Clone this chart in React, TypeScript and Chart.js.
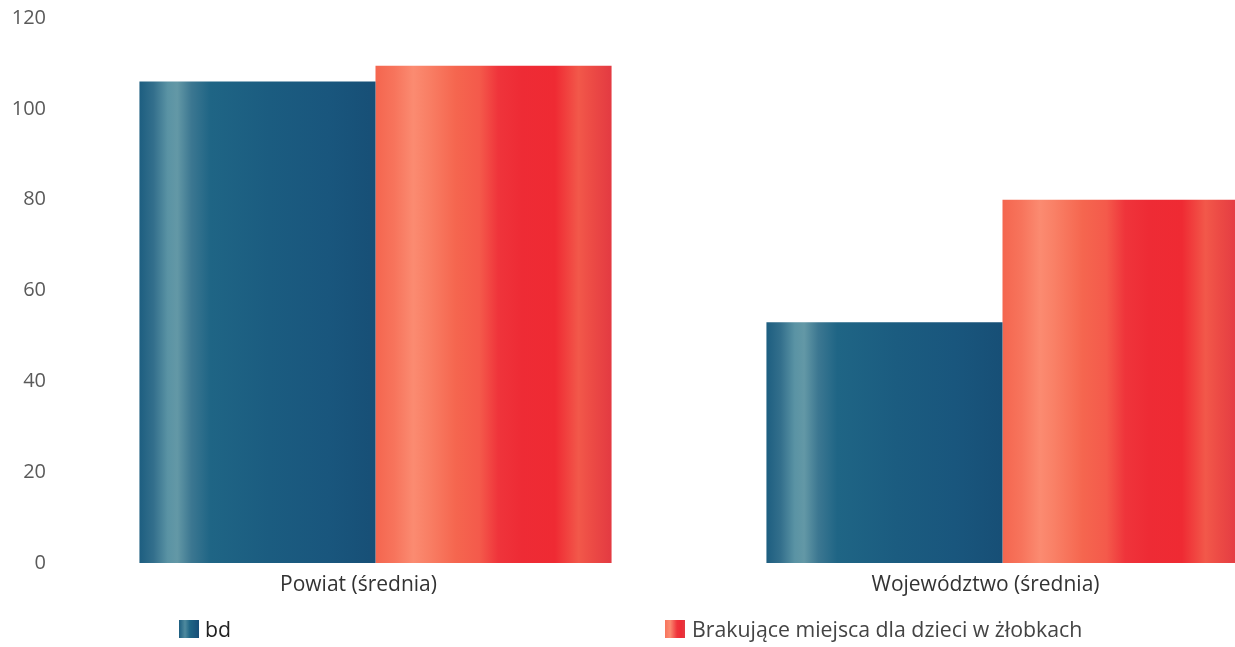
import React, { useEffect, useRef } from "react";
import { Chart, registerables } from "chart.js";

Chart.register(...registerables);

const categories = ["Powiat (średnia)", "Województwo (średnia)"];
const seriesNames = ["bd", "Brakujące miejsca dla dzieci w żłobkach"];
const bdValues = [106, 53];
const missingValues = [109.5, 80];
const yTicks = [0, 20, 40, 60, 80, 100, 120];

const blueStops: [number, string][] = [
  [0, "#1d5e80"],
  [0.06, "#336f8c"],
  [0.12, "#5a93a4"],
  [0.16, "#6398a6"],
  [0.22, "#3c7791"],
  [0.3, "#1f6585"],
  [0.55, "#1b5c80"],
  [0.8, "#19567d"],
  [1, "#174f76"],
];

const redStops: [number, string][] = [
  [0, "#f4664f"],
  [0.08, "#f7745c"],
  [0.16, "#fb8b71"],
  [0.22, "#f98066"],
  [0.34, "#f5664f"],
  [0.44, "#f45a4b"],
  [0.52, "#ef343b"],
  [0.62, "#ee2b35"],
  [0.76, "#ef2a33"],
  [0.86, "#f2584a"],
  [0.92, "#ec4a45"],
  [1, "#e33a42"],
];

const gradientPlugin = {
  id: "barGradients",
  beforeDatasetsDraw(chart: any) {
    const ctx = chart.ctx;
    chart.data.datasets.forEach((_ds: any, di: number) => {
      const meta = chart.getDatasetMeta(di);
      const stops = di === 0 ? blueStops : redStops;
      meta.data.forEach((el: any) => {
        const { x, width } = el.getProps(["x", "width"], true);
        const g = ctx.createLinearGradient(x - width / 2, 0, x + width / 2, 0);
        stops.forEach(([o, c]) => g.addColorStop(o, c));
        el.options = Object.assign({}, el.options, { backgroundColor: g });
      });
    });
  },
};

const FONT = "'Open Sans', 'DejaVu Sans', sans-serif";

export default function App() {
  const canvasRef = useRef<HTMLCanvasElement | null>(null);

  useEffect(() => {
    if (!canvasRef.current) return;
    const chart = new Chart(canvasRef.current, {
      type: "bar",
      data: {
        labels: categories,
        datasets: [
          { label: seriesNames[0], data: bdValues, backgroundColor: "#1b5c82", borderWidth: 0 },
          { label: seriesNames[1], data: missingValues, backgroundColor: "#ee2b35", borderWidth: 0 },
        ],
      },
      options: {
        responsive: false,
        animation: false,
        categoryPercentage: 0.753,
        barPercentage: 1,
        layout: { padding: { top: 18, left: 0, right: 0, bottom: 44 } },
        plugins: {
          legend: { display: false },
          tooltip: { enabled: false },
          title: { display: false },
        },
        scales: {
          x: {
            grid: { display: false, drawTicks: false },
            border: { display: false },
            ticks: {
              color: "#333333",
              font: { family: FONT, size: 21 },
              padding: 9,
              labelOffset: -17,
              maxRotation: 0,
            },
            afterFit: (s: any) => {
              s.height = 40;
            },
          },
          y: {
            min: 0,
            max: 120,
            grid: { display: false, drawTicks: false },
            border: { display: false },
            ticks: {
              color: "#5a5a5a",
              font: { family: FONT, size: 20, lineHeight: 1.2 },
              padding: 16,
              stepSize: 20,
            },
            afterBuildTicks: (s: any) => {
              s.ticks = yTicks.map((v) => ({ value: v }));
            },
            afterFit: (s: any) => {
              s.width = 62;
              s.paddingTop = 0;
              s.paddingBottom = 0;
            },
          },
        },
      },
      plugins: [gradientPlugin],
    });
    return () => chart.destroy();
  }, []);

  const boxBase: React.CSSProperties = {
    position: "absolute",
    top: 620,
    width: 20,
    height: 18,
  };
  const textBase: React.CSSProperties = {
    position: "absolute",
    top: 615,
    fontFamily: FONT,
    fontSize: 21.3,
    lineHeight: "27px",
    whiteSpace: "nowrap",
  };

  return (
    <div
      style={{
        position: "fixed",
        left: 0,
        top: 0,
        width: 1235,
        height: 647,
        overflow: "hidden",
        background: "#ffffff",
      }}
    >
      <canvas
        ref={canvasRef}
        width={1316}
        height={647}
        style={{ position: "absolute", left: 0, top: 0, display: "block" }}
      />
      <div
        style={{
          ...boxBase,
          left: 179,
          background:
            "linear-gradient(to right, #1d5e80, #4f8a9e 30%, #1f6585 55%, #174e78)",
        }}
      />
      <div style={{ ...textBase, left: 205, color: "#222222" }}>{seriesNames[0]}</div>
      <div
        style={{
          ...boxBase,
          left: 665,
          background:
            "linear-gradient(to right, #f7745c, #fb8b71 25%, #ef343b 60%, #ee2b35 80%, #e33a42)",
        }}
      />
      <div style={{ ...textBase, left: 692, color: "#444444" }}>{seriesNames[1]}</div>
    </div>
  );
}
